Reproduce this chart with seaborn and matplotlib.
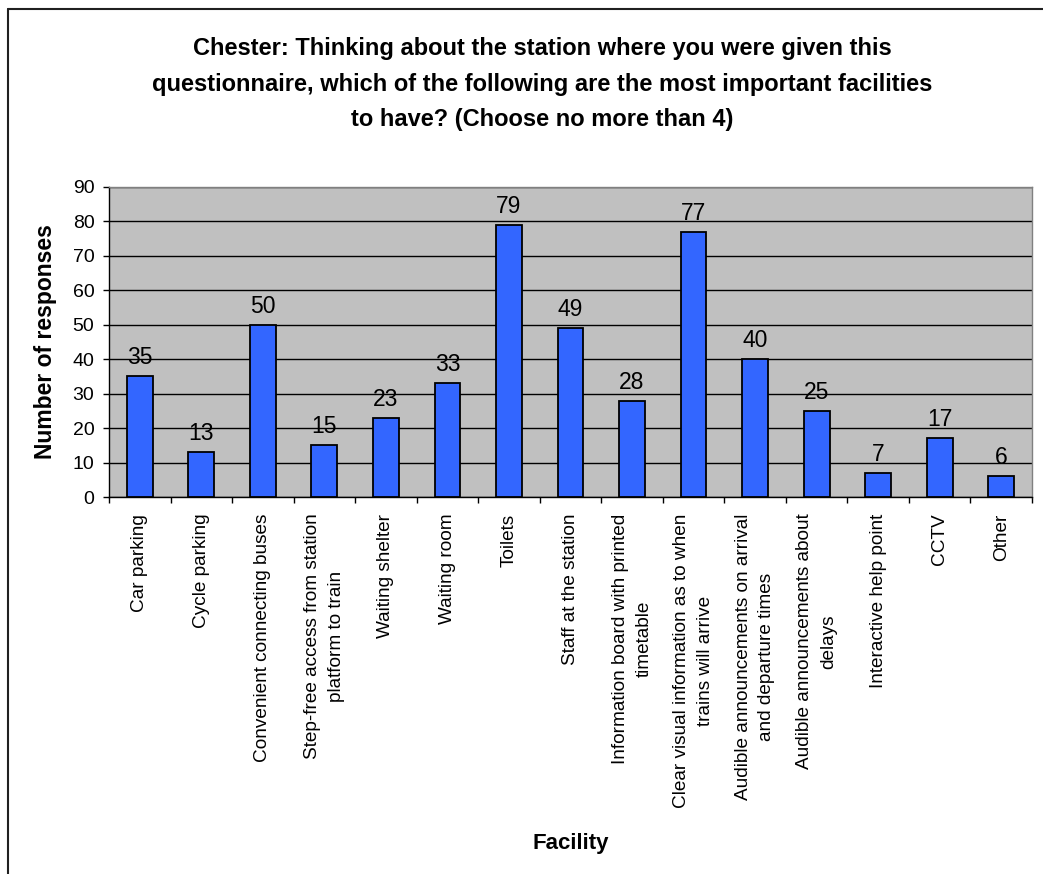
import matplotlib
matplotlib.use("Agg")
import matplotlib.pyplot as plt
import seaborn as sns
import pandas as pd
from matplotlib.lines import Line2D

categories = [
    "Car parking",
    "Cycle parking",
    "Convenient connecting buses",
    "Step-free access from station\nplatform to train",
    "Waiting shelter",
    "Waiting room",
    "Toilets",
    "Staff at the station",
    "Information board with printed\ntimetable",
    "Clear visual information as to when\ntrains will arrive",
    "Audible announcements on arrival\nand departure times",
    "Audible announcements about\ndelays",
    "Interactive help point",
    "CCTV",
    "Other",
]
responses = [35, 13, 50, 15, 23, 33, 79, 49, 28, 77, 40, 25, 7, 17, 6]
y_ticks = [0, 10, 20, 30, 40, 50, 60, 70, 80, 90]

title = ("Chester: Thinking about the station where you were given this\n"
         "questionnaire, which of the following are the most important facilities\n"
         "to have? (Choose no more than 4)")

sns.set_theme(style="white")
plt.rcParams["font.family"] = ["Liberation Sans", "DejaVu Sans"]
plt.rcParams["text.color"] = "black"
plt.rcParams["axes.labelcolor"] = "black"
plt.rcParams["xtick.color"] = "black"
plt.rcParams["ytick.color"] = "black"

df = pd.DataFrame({"Facility": categories, "Responses": responses})

W, H = 1043, 874
fig = plt.figure(figsize=(W / 100, H / 100), dpi=100)
ax_left, ax_right, ax_top, ax_bot = 109, 1032, 187, 497
ax = fig.add_axes([ax_left / W, 1 - ax_bot / H, (ax_right - ax_left) / W, (ax_bot - ax_top) / H])

sns.barplot(data=df, x="Facility", y="Responses", color="#3366FF", width=0.42,
            edgecolor="black", linewidth=1.3, saturation=1, ax=ax, zorder=3)

ax.set_facecolor("#C0C0C0")
ax.set_ylim(0, 90)
ax.set_xlim(-0.5, len(categories) - 0.5)
ax.set_yticks(y_ticks)
ax.set_yticklabels([str(v) for v in y_ticks], fontsize=14, color="black")
ax.yaxis.grid(True, color="black", linewidth=1.0, zorder=1)
ax.set_axisbelow(True)

# category labels at centres, tick marks at category boundaries
ax.set_xticks(range(len(categories)))
ax.set_xticklabels(categories, rotation=90, fontsize=13.7, ha="center", va="top",
                   multialignment="center", linespacing=1.5, color="black")
ax.tick_params(axis="x", which="major", length=0, pad=12)
ax.set_xticks([i - 0.5 for i in range(len(categories) + 1)], minor=True)
ax.tick_params(axis="x", which="minor", length=4.5, width=1, color="black", bottom=True)
ax.tick_params(axis="y", which="major", length=4.5, width=1, color="black", left=True, pad=6)

for s in ["left", "bottom"]:
    ax.spines[s].set_color("black")
    ax.spines[s].set_linewidth(1.0)
for s in ["top", "right"]:
    ax.spines[s].set_color("#808080")
    ax.spines[s].set_linewidth(1.0)

for i, v in enumerate(responses):
    ax.annotate(str(v), xy=(i, v), xytext=(0, 5), textcoords="offset points",
                ha="center", va="bottom", fontsize=16.5, color="black", zorder=4)

ax.set_ylabel("Number of responses", fontsize=16.5, fontweight="bold", color="black")
ax.yaxis.set_label_coords((46 - ax_left) / (ax_right - ax_left), 0.5)
ax.yaxis.label.set_va("center")
ax.set_xlabel("Facility", fontsize=16, fontweight="bold", color="black")
ax.xaxis.set_label_coords(0.5, (ax_bot - 843) / (ax_bot - ax_top))
ax.xaxis.label.set_va("center")

fig.text(542 / W, 1 - 84 / H, title, ha="center", va="center", fontsize=17,
         fontweight="bold", linespacing=1.7, color="black")

# chart-area border (top and left visible)
fig.add_artist(Line2D([8 / W, 1.0], [1 - 9 / H, 1 - 9 / H], transform=fig.transFigure,
                      color="#202020", linewidth=1.5))
fig.add_artist(Line2D([8 / W, 8 / W], [0.0, 1 - 9 / H], transform=fig.transFigure,
                      color="#202020", linewidth=1.5))

fig.savefig("out.png", dpi=100, facecolor="white")
